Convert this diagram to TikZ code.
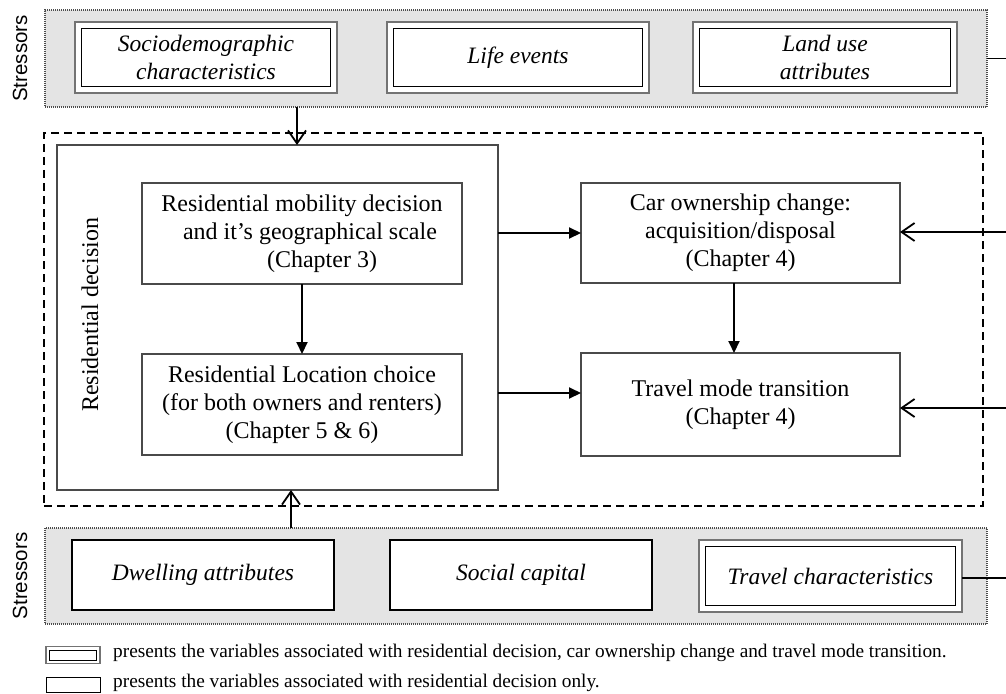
\documentclass[tikz,border=0pt]{standalone}
\usepackage{fontspec}
\setmainfont{Liberation Serif}
\setsansfont{Liberation Sans}
\usetikzlibrary{arrows.meta,calc}
\definecolor{bandgray}{HTML}{E4E4E4}
\definecolor{edgegray}{HTML}{4A4A4A}
\tikzset{
  band/.style={draw=black!70, line width=1.2pt, dash pattern=on 1pt off 1pt,
    fill=bandgray, inner sep=0pt, outer sep=0pt},
  frameline/.style={draw=black, line width=2.2pt, dash pattern=on 8pt off 5pt,
    inner sep=0pt, outer sep=0pt},
  resbox/.style={draw=edgegray, line width=1.3pt, fill=white, inner sep=0pt, outer sep=0pt},
  stagebox/.style={draw=edgegray, line width=1.3pt, fill=white, inner sep=0pt, outer sep=0pt,
    align=center, font=\fontsize{24}{28}\selectfont},
  singlebox/.style={draw=black, line width=1.2pt, fill=white, inner sep=0pt, outer sep=0pt,
    align=center, font=\fontsize{23.5}{28}\selectfont\itshape},
  dblbox/.style={draw=black!55, line width=1.6pt, fill=white, inner sep=0pt, outer sep=0pt,
    align=center, font=\fontsize{23.5}{28}\selectfont\itshape,
    path picture={\draw[black, line width=1pt]
      ([shift={(#1,#1)}]path picture bounding box.south west) rectangle
      ([shift={(-#1,-#1)}]path picture bounding box.north east);}},
  dblbox/.default=6.5pt,
  sidelabel/.style={rotate=90, font=\sffamily\fontsize{20.5}{22}\selectfont},
  legendtext/.style={anchor=west, inner sep=0pt, font=\fontsize{19.3}{22}\selectfont},
  flow/.style={draw=black, line width=2pt, -{Triangle[length=12pt,width=11pt]}},
  feed/.style={draw=black, line width=1.8pt, -{Straight Barb[length=13pt,width=18pt,line width=1.8pt]}},
  plain/.style={draw=black, line width=1.8pt}
}
\begin{document}
\begin{tikzpicture}[x=1pt,y=-1pt]
\useasboundingbox (0,0) rectangle (1006,693);

% outer dashed frame around the decision stages
\node[frameline, minimum width=939, minimum height=373] (frame) at (513.5,319.5) {};

% stressor bands
\node[band, minimum width=942, minimum height=97] (topband) at (516,58.5) {};
\node[band, minimum width=942, minimum height=96] (botband) at (516,576) {};
\node[sidelabel] (stTop) at (20,58.5) {Stressors};
\node[sidelabel] (stBot) at (20,576) {Stressors};

% upper stressors
\node[dblbox, minimum width=262, minimum height=71] (socio) at (206,57.5)
  {Sociodemographic\\characteristics};
\node[dblbox, minimum width=262, minimum height=71] (life) at (518,57.5) {Life events};
\node[dblbox, minimum width=264, minimum height=71] (land) at (825,57.5)
  {Land use\\attributes};

% lower stressors
\node[singlebox, minimum width=262, minimum height=70] (dwell) at (203,575) {Dwelling attributes};
\node[singlebox, minimum width=262, minimum height=70] (social) at (521,575) {Social capital};
\node[dblbox, minimum width=263, minimum height=72] (travchar) at (830.5,576)
  {Travel characteristics};

% residential decision block
\node[resbox, minimum width=441, minimum height=345] (res) at (277.5,317.5) {};
\node[rotate=90, font=\fontsize{24}{28}\selectfont] (reslabel) at (90,315) {Residential decision};
\node[stagebox, minimum width=320, minimum height=101] (mob) at (302,233.5)
  {Residential mobility decision\\\hspace*{16pt}and it’s geographical scale\\\hspace*{40pt}(Chapter 3)};
\node[stagebox, minimum width=320, minimum height=101] (loc) at (302,404.5)
  {Residential Location choice\\(for both owners and renters)\\(Chapter 5 \& 6)};

% car and travel mode stages
\node[stagebox, minimum width=319, minimum height=100] (car) at (740.5,233)
  {Car ownership change:\\acquisition/disposal\\(Chapter 4)};
\node[stagebox, minimum width=319, minimum height=103] (travel) at (740.5,404.5)
  {Travel mode transition\\(Chapter 4)};

% connectors inside the frame
\coordinate (carDown) at ([xshift=-6.5pt]car.south);
\coordinate (travIn) at ([yshift=11.5pt]travel.west);
\draw[flow] (mob.south) -- (loc.north);
\draw[flow] (carDown) -- (carDown |- travel.north);
\draw[flow] (res.east |- car.west) -- (car.west);
\draw[flow] (res.east |- travIn) -- (travIn);

% stressor influences
\coordinate (topIn) at (297,0);
\coordinate (botIn) at (291,0);
\draw[feed] (topband.south -| topIn) -- (res.north -| topIn);
\draw[feed] (botband.north -| botIn) -- (res.south -| botIn);

% links leaving on the right
\coordinate (outTop) at (1006,58.5);
\coordinate (outBot) at (1006,578);
\coordinate (inCar) at (1006,232);
\coordinate (inTravel) at (1006,408);
\draw[plain] (topband.east) -- (outTop);
\draw[plain] (travchar.east |- outBot) -- (outBot);
\draw[feed] (inCar) -- (car.east |- inCar);
\draw[feed] (inTravel) -- (travel.east |- inTravel);

% legend
\node[dblbox=3.5pt, minimum width=54, minimum height=17] (keyA) at (73,655) {};
\node[draw=black, line width=1pt, fill=white, inner sep=0pt, minimum width=54, minimum height=15] (keyB) at (73,684.5) {};
\node[legendtext] (keyAtext) at (113,653)
  {presents the variables associated with residential decision, car ownership change and travel mode transition.};
\node[legendtext] (keyBtext) at (113,683)
  {presents the variables associated with residential decision only.};
\end{tikzpicture}
\end{document}
